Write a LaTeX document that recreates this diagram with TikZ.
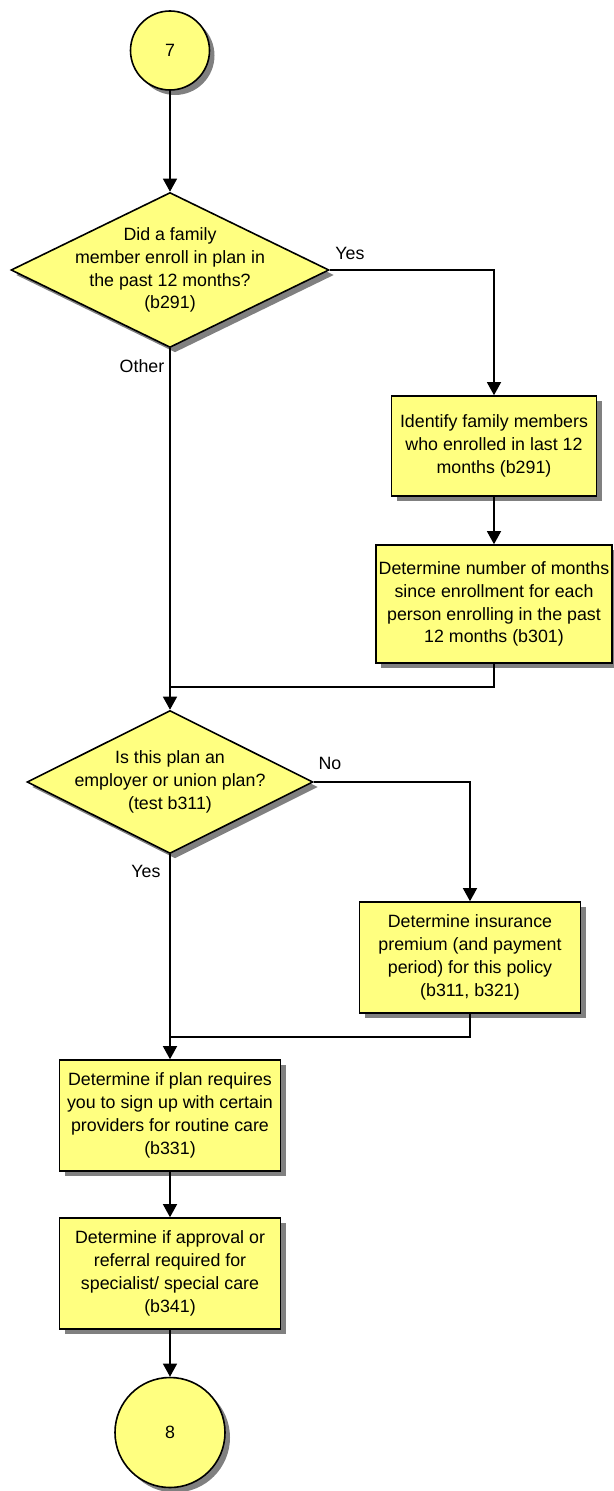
\documentclass[tikz,border=0pt]{standalone}
\usepackage{fontspec}
\setmainfont{Liberation Sans}
\usetikzlibrary{shapes.geometric,shadows,arrows.meta}
\definecolor{boxfill}{RGB}{255,255,128}
\definecolor{shadowgray}{RGB}{128,128,128}
\begin{document}
\begin{tikzpicture}[x=1pt,y=-1pt,
  every node/.style={font=\fontsize{17.8}{22.8}\selectfont},
  shade3d/.style={drop shadow={shadow xshift=5pt,shadow yshift=-5pt,fill=shadowgray,opacity=1}},
  procbox/.style={rectangle,draw=black,line width=1.6pt,fill=boxfill,shade3d,
    inner sep=0pt,align=center},
  decision/.style={diamond,draw=black,line width=1.6pt,fill=boxfill,shade3d,inner sep=0pt},
  connector/.style={circle,draw=black,line width=1.6pt,fill=boxfill,shade3d,inner sep=0pt},
  dtext/.style={align=center,inner sep=0pt},
  flow/.style={line width=1.3pt,-{Triangle[width=14pt,length=13pt]}},
  mergeline/.style={line width=1.3pt},
  lab/.style={inner sep=0pt}
]
\useasboundingbox (0,0) rectangle (613,1491);

% off-page connectors
\node[connector,minimum size=79pt] (c7) at (170,50.5) {7};
\node[connector,minimum size=110pt] (c8) at (170,1432.5) {8};

% decisions
\node[decision,minimum width=318pt,minimum height=155pt] (d1) at (170,270) {};
\node[dtext] at (d1.center) {Did a family\\member enroll in plan in\\the past 12 months?\\(b291)};
\node[decision,minimum width=286pt,minimum height=143pt] (d2) at (170,782) {};
\node[dtext] at (d2.center) {Is this plan an\\employer or union plan?\\(test b311)};

% process steps
\node[procbox,minimum width=205pt,minimum height=100pt] (b1) at (494,446)
  {Identify family members\\who enrolled in last 12\\months (b291)};
\node[procbox,minimum width=236pt,minimum height=118pt] (b2) at (494,604)
  {Determine number of months\\since enrollment for each\\person enrolling in the past\\12 months (b301)};
\node[procbox,minimum width=221pt,minimum height=111pt] (b3) at (470,957.5)
  {Determine insurance\\premium (and payment\\period) for this policy\\(b311, b321)};
\node[procbox,minimum width=221pt,minimum height=111pt] (b4) at (170,1115.5)
  {Determine if plan requires\\you to sign up with certain\\providers for routine care\\(b331)};
\node[procbox,minimum width=221pt,minimum height=111pt] (b5) at (170,1273.5)
  {Determine if approval or\\referral required for\\specialist/ special care\\(b341)};

% merge points
\coordinate (j1) at (170,687);
\coordinate (j2) at (170,1037);

% connectors
\draw[flow] (c7.south) -- (d1.north);
\draw[flow] (d1.east) -- (b1.north |- d1.east) -- (b1.north);
\draw[flow] (d1.south) -- (d2.north);
\draw[flow] (b1.south) -- (b2.north);
\draw[mergeline] (b2.south) -- (b2.south |- j1) -- (j1);
\draw[flow] (d2.east) -- (b3.north |- d2.east) -- (b3.north);
\draw[flow] (d2.south) -- (b4.north);
\draw[mergeline] (b3.south) -- (b3.south |- j2) -- (j2);
\draw[flow] (b4.south) -- (b5.north);
\draw[flow] (b5.south) -- (c8.north);

% branch labels
\node[lab] (lyes1) at (350,253) {Yes};
\node[lab] (lother) at (142,366) {Other};
\node[lab] (lno) at (330,763) {No};
\node[lab] (lyes2) at (146,871) {Yes};
\end{tikzpicture}
\end{document}
